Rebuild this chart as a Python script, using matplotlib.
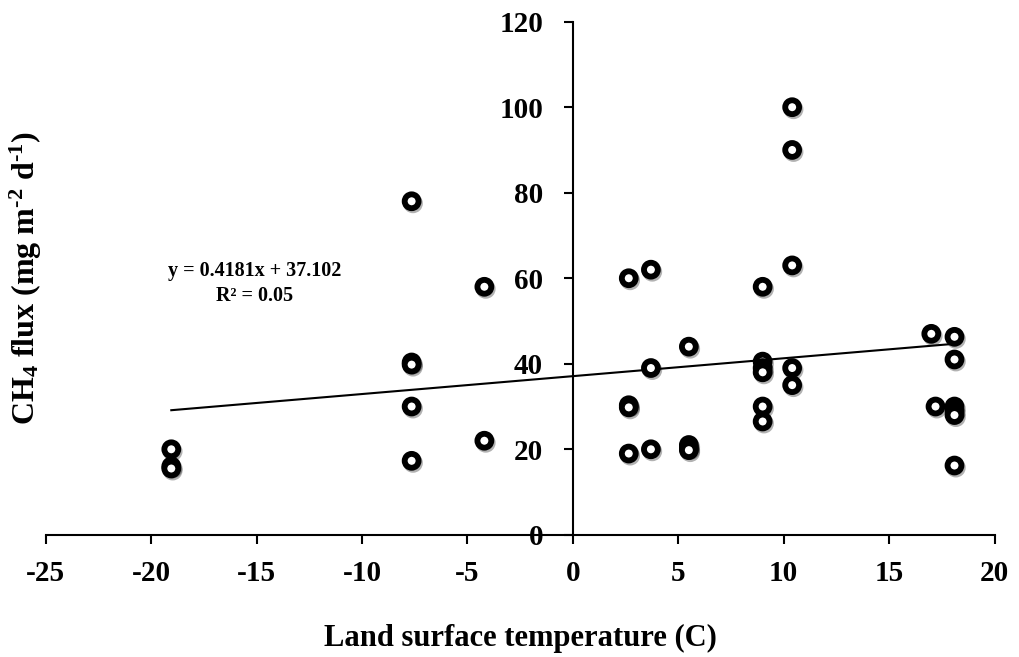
import matplotlib
matplotlib.use("Agg")
import matplotlib.pyplot as plt
import matplotlib.patheffects as pe
import numpy as np

plt.rcParams['font.family'] = ['Liberation Serif', 'DejaVu Serif']
plt.rcParams['font.weight'] = 'bold'
plt.rcParams['axes.unicode_minus'] = False
plt.rcParams['mathtext.fontset'] = 'custom'
plt.rcParams['mathtext.rm'] = 'Liberation Serif:bold'
plt.rcParams['mathtext.bf'] = 'Liberation Serif:bold'
plt.rcParams['mathtext.default'] = 'bf'

# land surface temperature (C) and CH4 flux
temp = [-19.05, -19.05, -19.05,
        -7.65, -7.65, -7.65, -7.65, -7.65,
        -4.2, -4.2,
        2.65, 2.65, 2.65, 2.65,
        3.7, 3.7, 3.7,
        5.5, 5.5, 5.5, 5.5,
        9.0, 9.0, 9.0, 9.0, 9.0, 9.0,
        10.4, 10.4, 10.4, 10.4, 10.4,
        17.0, 17.2,
        18.1, 18.1, 18.1, 18.1, 18.1, 18.1]
flux = [20, 16, 15.5,
        78, 40.3, 39.8, 30, 17.3,
        58, 22,
        60, 30.3, 29.8, 19,
        62, 39, 20,
        44, 21, 20.3, 19.8,
        58, 40.5, 39, 38, 30, 26.5,
        100, 90, 63, 39, 35,
        47, 30,
        46.3, 41, 30, 29, 28, 16.2]

slope, intercept = 0.4181, 37.102
eq_text = "y = 0.4181x + 37.102\nR² = 0.05"
x_ticks = [-25, -20, -15, -10, -5, 0, 5, 10, 15, 20]
y_ticks = [0, 20, 40, 60, 80, 100, 120]

fig = plt.figure(figsize=(10.19, 6.57), dpi=100)
ax = fig.add_axes([0.045, 0.186, 0.931, 0.781])

ax.plot(temp, flux, linestyle='none', marker='o', markersize=10,
        markerfacecolor='white', markeredgecolor='black', markeredgewidth=4.2,
        zorder=3,
        path_effects=[pe.SimpleLineShadow(offset=(1, -1.5), shadow_color='black', alpha=0.3),
                      pe.Normal()])

xl = np.array([min(temp), max(temp)])
ax.plot(xl, slope * xl + intercept, color='black', linewidth=1.5, zorder=2)

ax.text(-15.1, 58.8, eq_text, ha='center', va='center', multialignment='center',
        fontsize=14.5, fontweight='bold', linespacing=1.35)

ax.set_xlim(-25, 20)
ax.set_ylim(0, 120)
ax.set_xticks(x_ticks)
ax.set_yticks(y_ticks)
ax.spines['left'].set_position(('data', 0))
ax.spines['bottom'].set_position(('data', 0))
ax.spines['top'].set_visible(False)
ax.spines['right'].set_visible(False)
for s in ('left', 'bottom'):
    ax.spines[s].set_linewidth(1.5)
ax.tick_params(direction='out', length=6.5, width=1.5, labelsize=21)
ax.tick_params(axis='x', pad=12)
ax.tick_params(axis='y', pad=15)

ax.set_xlabel("Land surface temperature (C)", fontsize=22, fontweight='bold', labelpad=26)
ax.set_ylabel(r"CH$_4$ flux (mg m$^{\text{-}2}$ d$^{\text{-}1}$)", fontsize=23, fontweight='bold')
ax.yaxis.set_label_coords(-0.002, 0.5, transform=ax.transAxes)

fig.savefig("out.png", dpi=100)
